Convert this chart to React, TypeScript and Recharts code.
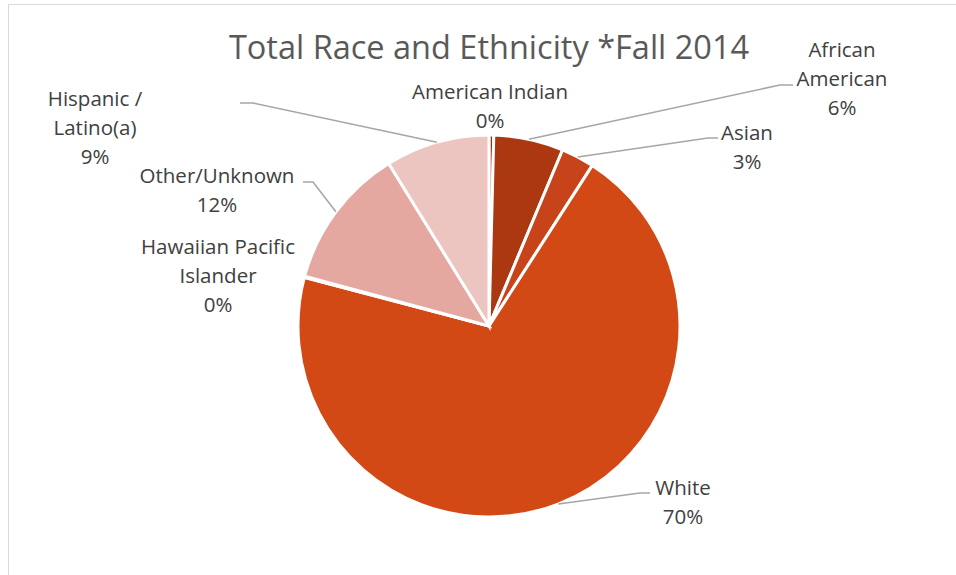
import { PieChart, Pie, Cell } from "recharts";

// share of students, Fall 2014 (percent)
const groups = [
  "American Indian",
  "African American",
  "Asian",
  "White",
  "Hawaiian Pacific Islander",
  "Other/Unknown",
  "Hispanic / Latino(a)",
];
const shares = [0.4, 5.9, 2.8, 70.0, 0.1, 12.0, 8.8];
const shownPct = ["0%", "6%", "3%", "70%", "0%", "12%", "9%"];
const labelLines = [
  ["American Indian"],
  ["African", "American"],
  ["Asian"],
  ["White"],
  ["Hawaiian Pacific", "Islander"],
  ["Other/Unknown"],
  ["Hispanic /", "Latino(a)"],
];

const colors = ["#8E2E0C", "#AB3810", "#C7431A", "#D34916", "#DE8A7A", "#E5A8A1", "#EDC5C0"];

// where each data label sits (text centre x, first baseline y) and its leader elbow
const labelSpots = [
  { x: 490, y: 99, elbow: null as null | [number, number, number] },
  { x: 842, y: 57, elbow: [780, 85, 793] as [number, number, number] },
  { x: 747, y: 140, elbow: [708, 138, 718] as [number, number, number] },
  { x: 683, y: 495, elbow: [640, 493, 650] as [number, number, number] },
  { x: 218, y: 254, elbow: null },
  { x: 217, y: 183, elbow: [313, 182, 303] as [number, number, number] },
  { x: 95, y: 106, elbow: [253, 103, 240] as [number, number, number] },
];

const data = groups.map((name, i) => ({ name, value: shares[i] }));

const RAD = Math.PI / 180;
const LINE_H = 29;

function renderLabel(props: any) {
  const { cx, cy, midAngle, outerRadius, index } = props;
  const spot = labelSpots[index];
  const lines = [...labelLines[index], shownPct[index]];
  const sx = cx + outerRadius * Math.cos(-midAngle * RAD);
  const sy = cy + outerRadius * Math.sin(-midAngle * RAD);
  return (
    <g key={`lbl-${index}`}>
      {spot.elbow && (
        <polyline
          points={`${sx},${sy} ${spot.elbow[0]},${spot.elbow[1]} ${spot.elbow[2]},${spot.elbow[1]}`}
          fill="none"
          stroke="#A6A6A6"
          strokeWidth={1.5}
        />
      )}
      <text
        x={spot.x}
        y={spot.y}
        textAnchor="middle"
        fill="#404040"
        fontSize={20.5}
        fontFamily="'Open Sans', sans-serif"
      >
        {lines.map((t, j) => (
          <tspan key={j} x={spot.x} y={spot.y + j * LINE_H}>
            {t}
          </tspan>
        ))}
      </text>
    </g>
  );
}

export default function App() {
  return (
    <div style={{ position: "absolute", left: 0, top: 0, width: 956, height: 575, background: "#fff" }}>
      <div
        style={{
          position: "absolute",
          left: 8,
          top: 4,
          width: 960,
          height: 600,
          border: "1.5px solid #D9D9D9",
          boxSizing: "border-box",
        }}
      />
      <PieChart
        width={956}
        height={575}
        margin={{ top: 0, right: 0, bottom: 0, left: 0 }}
        style={{ position: "absolute", left: 0, top: 0 }}
      >
        <text
          x={489}
          y={59}
          textAnchor="middle"
          fill="#595959"
          fontSize={32.5}
          fontFamily="'Open Sans', sans-serif"
        >
          Total Race and Ethnicity *Fall 2014
        </text>
        <Pie
          data={data}
          dataKey="value"
          nameKey="name"
          cx={489}
          cy={326}
          outerRadius={191}
          startAngle={90}
          endAngle={-270}
          stroke="#FFFFFF"
          strokeWidth={3}
          label={renderLabel}
          labelLine={false}
          isAnimationActive={false}
        >
          {data.map((d, i) => (
            <Cell key={d.name} fill={colors[i]} />
          ))}
        </Pie>
      </PieChart>
    </div>
  );
}
